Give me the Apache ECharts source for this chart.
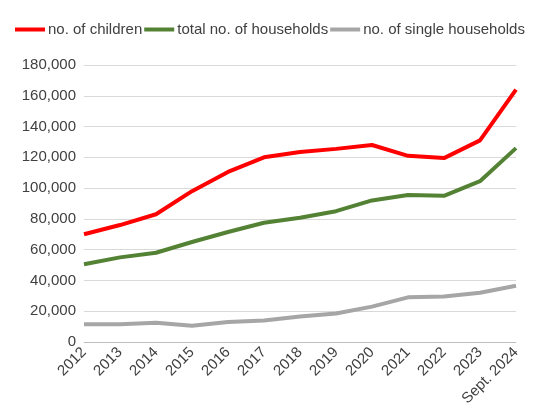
<!DOCTYPE html>
<html><head><meta charset="utf-8">
<script src="https://cdn.jsdelivr.net/npm/echarts@6/dist/echarts.min.js"></script>
<style>html,body{margin:0;padding:0;background:#fff}#c{width:545px;height:417px}</style>
</head><body><div id="c"></div>
<script>
const years=['2012','2013','2014','2015','2016','2017','2018','2019','2020','2021','2022','2023','Sept. 2024'];
const children=[70000,76000,83000,98000,110500,120000,123500,125500,128000,121000,119500,131000,164000];
const households=[50500,55000,58000,65000,71500,77500,80800,85000,92000,95500,95000,104500,126000];
const singles=[11500,11500,12500,10500,13000,14000,16500,18500,23000,29000,29500,32000,36500];

const font='Liberation Sans, Arial, sans-serif';
const mk=(name,data,color)=>({name,type:'line',data,symbol:'none',lineStyle:{width:4,color},itemStyle:{color}});
const chart=echarts.init(document.getElementById('c'));
chart.setOption({
  animation:false,
  textStyle:{fontFamily:font,color:'#404040'},
  legend:{top:17,left:10,itemWidth:30,itemHeight:4,itemGap:2,icon:'rect',
    textStyle:{fontSize:15,color:'#404040',fontFamily:font,padding:[0,0,0,-2]}},
  grid:{left:84,right:29,top:65,bottom:75},
  xAxis:{type:'category',data:years,boundaryGap:false,
    axisLine:{lineStyle:{color:'#bfbfbf'}},axisTick:{show:false},
    axisLabel:{rotate:45,fontSize:15,color:'#404040',margin:8}},
  yAxis:{type:'value',min:0,max:180000,interval:20000,
    axisLabel:{fontSize:15,color:'#404040',formatter:v=>v.toLocaleString('en-US')},
    splitLine:{lineStyle:{color:'#d9d9d9'}},axisLine:{show:false},axisTick:{show:false}},
  series:[mk('no. of children',children,'#ff0000'),mk('total no. of households',households,'#548235'),mk('no. of single households',singles,'#a6a6a6')]
});
</script></body></html>
